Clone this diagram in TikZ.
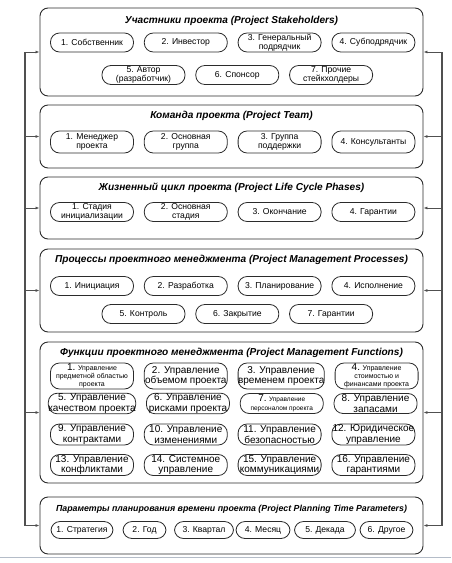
\documentclass[tikz,border=0pt]{standalone}
\usepackage{fontspec}
\setmainfont{Liberation Sans}
\usetikzlibrary{arrows.meta,positioning}
\definecolor{pmLine}{HTML}{2B2B2B}
\definecolor{pmRail}{HTML}{505050}
\definecolor{pmEdge}{HTML}{B4BCC8}

\begin{document}
\begin{tikzpicture}[
  x=1pt, y=-1pt,
  panel/.style = {draw=pmLine, rounded corners=8pt, line width=0.9pt,
                  minimum width=383pt, inner sep=0pt},
  ttl/.style   = {font=\fontsize{10.1}{11}\selectfont\bfseries\itshape},
  pill/.style  = {draw=pmLine, rounded corners=9pt, line width=0.8pt,
                  align=center, minimum width=83pt, minimum height=19pt,
                  inner xsep=1pt, inner ysep=0.5pt,
                  font=\fontsize{8.6}{9}\selectfont},
  fpill/.style = {pill, minimum height=21pt, inner xsep=0pt,
                  font=\fontsize{10}{10.6}\selectfont},
  tpill/.style = {pill, minimum height=17pt},
  rail/.style  = {draw=pmRail, line width=1.2pt},
  arr/.style   = {-{Latex[length=4pt,width=3pt]}, line width=1pt, draw=pmRail},
  nd/.style    = {node distance=10pt},
]
\useasboundingbox (0,0) rectangle (451,563);

%── Panels ────────────────────────────────────────────────────────────────────
\node[panel, minimum height=88pt]  (stk)  at (231.5,52)    {};
\node[panel, minimum height=63pt]  (team) at (231.5,136.5) {};
\node[panel, minimum height=62pt]  (life) at (231.5,208)   {};
\node[panel, minimum height=83pt]  (proc) at (231.5,290.5) {};
\node[panel, minimum height=141pt] (func) at (231.5,412.5) {};
\node[panel, minimum height=57pt]  (time) at (231.5,525.5) {};

%── Panel titles ──────────────────────────────────────────────────────────────
\node[ttl] (stkT)  at (231.5,20.5) {Участники проекта (Project Stakeholders)};
\node[ttl] (teamT) at (231.5,116)  {Команда проекта (Project Team)};
\node[ttl] (lifeT) at (231.5,188)  {Жизненный цикл проекта (Project Life Cycle Phases)};
\node[ttl] (procT) at (231.5,260)  {Процессы проектного менеджмента (Project Management Processes)};
\node[ttl] (funcT) at (231.5,353)  {Функции проектного менеджмента (Project Management Functions)};
\node[ttl, font=\fontsize{8.8}{10}\selectfont\bfseries\itshape] (timeT) at (231.5,509)
    {Параметры планирования времени проекта (Project Planning Time Parameters)};

%── Stakeholders ──────────────────────────────────────────────────────────────
\node[pill] (stk1) at (92,42.5) {1. Собственник};
\node[pill, nd, right=of stk1] (stk2) {2. Инвестор};
\node[pill, nd, right=of stk2] (stk3) {3. Генеральный\\подрядчик};
\node[pill, nd, right=of stk3] (stk4) {4. Субподрядчик};
\node[pill] (stk5) at (143.5,75) {5. Автор\\(разработчик)};
\node[pill, nd, right=of stk5] (stk6) {6. Спонсор};
\node[pill, nd, right=of stk6] (stk7) {7. Прочие\\стейкхолдеры};

%── Project team ──────────────────────────────────────────────────────────────
\node[pill, minimum height=22pt] (team1) at (92,142) {1. Менеджер\\проекта};
\node[pill, minimum height=22pt, nd, right=of team1] (team2) {2. Основная\\группа};
\node[pill, minimum height=22pt, nd, right=of team2] (team3) {3. Группа\\поддержки};
\node[pill, minimum height=22pt, nd, right=of team3] (team4) {4. Консультанты};

%── Life cycle ────────────────────────────────────────────────────────────────
\node[pill] (life1) at (92,212) {1. Стадия\\инициализации};
\node[pill, nd, right=of life1] (life2) {2. Основная\\стадия};
\node[pill, nd, right=of life2] (life3) {3. Окончание};
\node[pill, nd, right=of life3] (life4) {4. Гарантии};

%── Processes ─────────────────────────────────────────────────────────────────
\node[pill] (proc1) at (92,286) {1. Инициация};
\node[pill, nd, right=of proc1] (proc2) {2. Разработка};
\node[pill, nd, right=of proc2] (proc3) {3. Планирование};
\node[pill, nd, right=of proc3] (proc4) {4. Исполнение};
\node[pill] (proc5) at (143.5,314) {5. Контроль};
\node[pill, nd, right=of proc5] (proc6) {6. Закрытие};
\node[pill, nd, right=of proc6] (proc7) {7. Гарантии};

%── Functions ─────────────────────────────────────────────────────────────────
\node[fpill, minimum height=26pt, font=\fontsize{7}{8.2}\selectfont] (func1) at (92,376)
    {{\fontsize{10}{8}\selectfont 1.} Управление\\предметной областью\\проекта};
\node[fpill, minimum height=26pt, nd, right=of func1] (func2) {2. Управление\\объемом проекта};
\node[fpill, minimum height=26pt, nd, right=of func2] (func3) {3. Управление\\временем проекта};
\node[fpill, minimum height=26pt, font=\fontsize{7}{8.2}\selectfont, nd, right=of func3] (func4)
    {{\fontsize{10}{8}\selectfont 4.} Управление\\стоимостью и\\финансами проекта};
\node[fpill, minimum height=20pt] (func5) at (92,403.5) {5. Управление\\качеством проекта};
\node[fpill, minimum height=20pt, nd, right=of func5] (func6) {6. Управление\\рисками проекта};
\node[fpill, minimum height=20pt, font=\fontsize{6.5}{9}\selectfont, nd, right=of func6] (func7)
    {{\fontsize{10}{9}\selectfont 7.} Управление\\персоналом проекта};
\node[fpill, minimum height=20pt, nd, right=of func7] (func8) {8. Управление\\запасами};
\node[fpill] (func9) at (92,434.5) {9. Управление\\контрактами};
\node[fpill, nd, right=of func9]  (func10) {10. Управление\\изменениями};
\node[fpill, nd, right=of func10] (func11) {11. Управление\\безопасностью};
\node[fpill, nd, right=of func11] (func12) {12. Юридическое\\управление};
\node[fpill] (func13) at (92,465) {13. Управление\\конфликтами};
\node[fpill, nd, right=of func13] (func14) {14. Системное\\управление};
\node[fpill, nd, right=of func14] (func15) {15. Управление\\коммуникациями};
\node[fpill, nd, right=of func15] (func16) {16. Управление\\гарантиями};

%── Time parameters ───────────────────────────────────────────────────────────
\node[tpill, minimum width=62pt] (time1) at (82,530)    {1. Стратегия};
\node[tpill, minimum width=43pt] (time2) at (144.5,530) {2. Год};
\node[tpill, minimum width=59pt] (time3) at (204,530)   {3. Квартал};
\node[tpill, minimum width=54pt] (time4) at (263,530)   {4. Месяц};
\node[tpill, minimum width=61pt] (time5) at (325,530)   {5. Декада};
\node[tpill, minimum width=53pt] (time6) at (386.5,530) {6. Другое};

%── Side rails with feed arrows ───────────────────────────────────────────────
\coordinate (lTop) at (25,52);
\coordinate (lBot) at (25,525.5);
\coordinate (rTop) at (442,52);
\coordinate (rBot) at (442,525.5);
\draw[rail] (lTop) -- (lBot);
\draw[rail] (rTop) -- (rBot);

\draw[arr] (lTop |- stk.west)  -- (stk.west);
\draw[arr] (lTop |- team.west) -- (team.west);
\draw[arr] (lTop |- life.west) -- (life.west);
\draw[arr] (lTop |- proc.west) -- (proc.west);
\draw[arr] (lTop |- func.west) -- (func.west);
\draw[arr] (lTop |- time.west) -- (time.west);

\draw[arr] (rTop |- stk.east)  -- (stk.east);
\draw[arr] (rTop |- team.east) -- (team.east);
\draw[arr] (rTop |- life.east) -- (life.east);
\draw[arr] (rTop |- proc.east) -- (proc.east);
\draw[arr] (rTop |- func.east) -- (func.east);
\draw[arr] (rTop |- time.east) -- (time.east);

%── Page edge ─────────────────────────────────────────────────────────────────
\draw[pmEdge, line width=1.5pt] (0,557.5) -- (451,557.5);

\end{tikzpicture}
\end{document}
